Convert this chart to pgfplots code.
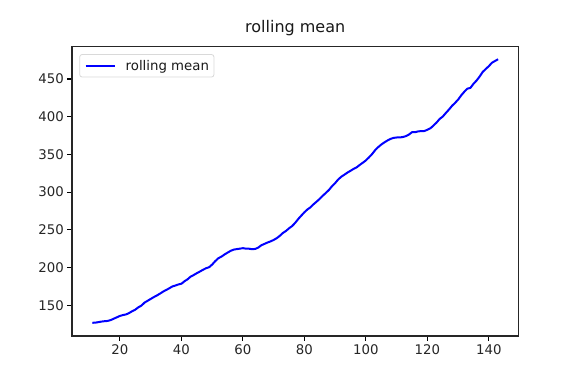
\documentclass[border=0pt]{standalone}
\usepackage{fontspec}
\setmainfont{DejaVu Sans}
\usepackage{pgfplots}
\pgfplotsset{compat=1.18}
\begin{document}
\begin{tikzpicture}
\path[use as bounding box] (-72bp,-48bp) rectangle (504bp,336bp);
\begin{axis}[
  scale only axis, width=446.4bp, height=289.92bp,
  at={(0,0)}, anchor=south west,
  xmin=4.4, xmax=149.6, ymin=109.195, ymax=493.645,
  xtick={20,40,...,140}, ytick={150,200,...,450},
  minor tick num=0,
  tick align=outside, major tick length=4.67bp,
  tick style={black, line width=1.07bp},
  axis line style={black!85, line width=1.07bp},
  xtick pos=bottom, ytick pos=left,
  every tick label/.append style={font=\fontsize{13.3bp}{16bp}\selectfont, text=black!85},
  /pgf/number format/assume math mode=true,
  title={rolling mean},
  title style={font=\fontsize{16bp}{19bp}\selectfont, anchor=base, at={(0.5,1)}, yshift=8bp, text=black!90},
  legend style={at={(0.0164,0.9724)}, anchor=north west, draw=black!15, line width=0.8bp,
    rounded corners=2.5bp, fill=white, font=\fontsize{13.3bp}{16bp}\selectfont,
    inner xsep=5bp, inner ysep=5.5bp, nodes={inner sep=0pt, text=black!90},
    /tikz/every odd column/.append style={column sep=10bp}},
  legend cell align=left,
  legend image code/.code={\draw[#1] (0bp,0bp) -- (29bp,0bp);},
]
\addplot[color=blue, line width=2bp, line join=round] coordinates {
(11,126.67) (12,126.92) (13,127.58) (14,128.33) (15,128.83) (16,129.17) (17,130.33) (18,132.17) (19,134.00) (20,135.83)
(21,137.00) (22,137.83) (23,139.67) (24,142.17) (25,144.17) (26,147.25) (27,149.58) (28,153.50) (29,155.92) (30,158.33)
(31,160.75) (32,162.92) (33,165.33) (34,168.00) (35,170.17) (36,172.33) (37,174.83) (38,176.08) (39,177.58) (40,178.50)
(41,181.83) (42,184.42) (43,188.00) (44,190.08) (45,192.50) (46,194.67) (47,197.00) (48,199.08) (49,200.42) (50,204.00)
(51,208.50) (52,212.33) (53,214.42) (54,217.25) (55,219.75) (56,222.08) (57,223.75) (58,224.42) (59,225.00) (60,225.67)
(61,225.00) (62,224.92) (63,224.25) (64,224.67) (65,226.42) (66,229.58) (67,231.33) (68,233.17) (69,234.67) (70,236.58)
(71,238.92) (72,242.08) (73,245.83) (74,248.50) (75,252.00) (76,255.00) (77,259.25) (78,264.42) (79,268.92) (80,273.33)
(81,277.08) (82,279.92) (83,284.00) (84,287.50) (85,291.17) (86,295.33) (87,299.00) (88,303.00) (89,307.92) (90,312.00)
(91,316.83) (92,320.42) (93,323.08) (94,325.92) (95,328.25) (96,330.83) (97,332.83) (98,336.08) (99,339.00) (100,342.08)
(101,346.08) (102,350.42) (103,355.58) (104,359.67) (105,363.08) (106,365.92) (107,368.42) (108,370.50) (109,371.92) (110,372.42)
(111,372.42) (112,373.08) (113,374.17) (114,376.33) (115,379.50) (116,379.50) (117,380.50) (118,380.92) (119,381.00) (120,382.67)
(121,384.67) (122,388.33) (123,392.33) (124,397.08) (125,400.17) (126,404.92) (127,409.42) (128,414.33) (129,418.33) (130,422.67)
(131,428.33) (132,433.08) (133,437.17) (134,438.25) (135,443.67) (136,448.00) (137,453.25) (138,459.42) (139,463.33) (140,467.08)
(141,471.58) (142,473.92) (143,476.17)
};
\addlegendentry{rolling mean}
\end{axis}
\end{tikzpicture}
\end{document}
